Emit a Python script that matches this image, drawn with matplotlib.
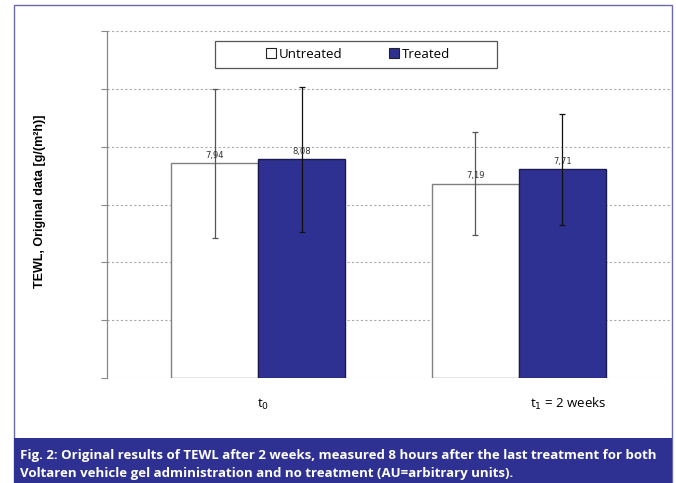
import numpy as np
import matplotlib
matplotlib.use('Agg')
import matplotlib.pyplot as plt
from matplotlib.patches import Rectangle

plt.rcParams['font.family'] = ['Open Sans', 'DejaVu Sans']

groups = ['t$_0$', 't$_1$ = 2 weeks']
untreated = [7.94, 7.19]
treated = [8.08, 7.71]
untreated_err = [2.76, 1.92]
treated_err = [2.68, 2.06]
labels_untreated = ['7,94', '7,19']
labels_treated = ['8,08', '7,71']

navy = '#2E3192'

fig = plt.figure(figsize=(6.76, 4.83), dpi=100)

# outer frame and caption band
fig.patches.append(Rectangle((14/676, 0), 658/676, 478/483, transform=fig.transFigure,
                             fill=False, edgecolor='#6a6aa8', linewidth=1.0))
fig.patches.append(Rectangle((14/676, 0), 658/676, 45/483, transform=fig.transFigure,
                             facecolor=navy, edgecolor='none'))
fig.text(20/676, 28/483, 'Fig. 2: Original results of TEWL after 2 weeks, measured 8 hours after the last treatment for both',
         color='white', fontsize=9.5, fontweight='bold', va='center', ha='left')
fig.text(20/676, 10/483, 'Voltaren vehicle gel administration and no treatment (AU=arbitrary units).',
         color='white', fontsize=9.5, fontweight='bold', va='center', ha='left')

ax = fig.add_axes([107/676, 1 - 378/483, 563/676, 347/483])
x = np.arange(len(groups))
w = 0.333
ymax = 12.83

ax.bar(x - w/2, untreated, w, color='white', edgecolor='#808080', linewidth=1.0,
       label='Untreated', zorder=2)
ax.bar(x + w/2, treated, w, color=navy, edgecolor='#1a1a50', linewidth=1.0,
       label='Treated', zorder=2)
ax.errorbar(x - w/2, untreated, yerr=untreated_err, fmt='none', ecolor='#555555',
            elinewidth=0.9, capsize=2.5, capthick=0.9, zorder=3)
ax.errorbar(x + w/2, treated, yerr=treated_err, fmt='none', ecolor='#111111',
            elinewidth=0.9, capsize=2.5, capthick=0.9, zorder=3)

for i in range(len(groups)):
    ax.text(x[i] - w/2, untreated[i] + 0.12, labels_untreated[i], ha='center', va='bottom',
            fontsize=6, color='#333333', family='DejaVu Sans', zorder=4)
    ax.text(x[i] + w/2, treated[i] + 0.12, labels_treated[i], ha='center', va='bottom',
            fontsize=6, color='#333333', family='DejaVu Sans', zorder=4)

ax.set_xlim(-0.58, 1.58)
ax.set_ylim(0, ymax)
ax.set_yticks(np.linspace(0, ymax, 7))
ax.set_yticklabels([])
ax.yaxis.grid(True, linestyle=(0, (2, 2)), color='#aaaaaa', linewidth=0.8, zorder=0)
ax.set_axisbelow(True)
ax.tick_params(axis='y', length=4, color='#888888', width=0.8)
ax.set_xticks([])
for s in ['top', 'right', 'bottom']:
    ax.spines[s].set_visible(False)
ax.spines['left'].set_color('#888888')
ax.spines['left'].set_linewidth(0.9)

# category labels
ax.text(0.02, -0.075, groups[0], transform=ax.get_xaxis_transform(), ha='center', va='center',
        fontsize=9.5)
ax.text(1.19, -0.075, groups[1], transform=ax.get_xaxis_transform(), ha='center', va='center',
        fontsize=9.5)

fig.text(40/676, 1 - 201/483, 'TEWL, Original data [g/(m²h)]', rotation=90, ha='center',
         va='center', fontsize=9, fontweight='bold', family='Liberation Sans')

# legend box drawn separately, legend entries centred inside it
ax.add_patch(Rectangle((215/676, 1 - 67.5/483), 282/676, 26.5/483,
                       transform=fig.transFigure, facecolor='white', clip_on=False,
                       edgecolor='#555555', linewidth=0.9, zorder=5))
leg = ax.legend(loc='center', bbox_to_anchor=(358/676, 1 - 54/483),
                bbox_transform=fig.transFigure, ncol=2, frameon=False, fontsize=9.5,
                handlelength=0.75, handleheight=0.75, columnspacing=3.6, handletextpad=0.2,
                borderpad=0, borderaxespad=0)
leg.set_zorder(6)
for h in leg.legend_handles:
    h.set_linewidth(0.8)
    h.set_edgecolor('#222222')

fig.savefig('out.png', dpi=100)
